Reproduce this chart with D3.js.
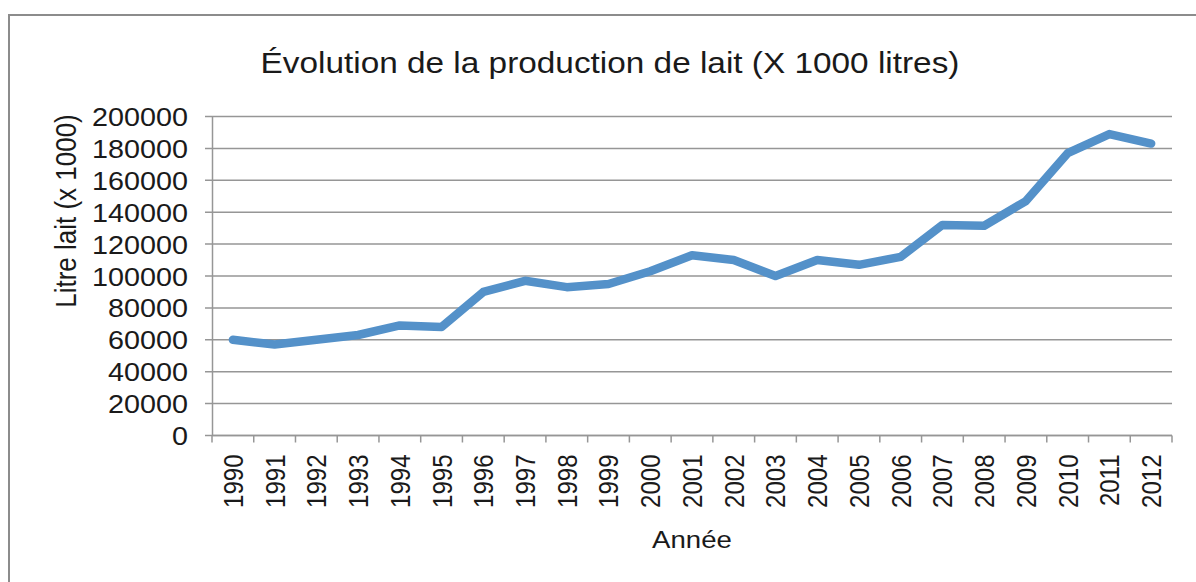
<!DOCTYPE html>
<html>
<head>
<meta charset="utf-8">
<script src="https://cdn.jsdelivr.net/npm/d3@7"></script>
<style>
  body { margin: 0; background: #fff; }
  text { font-family: "Liberation Sans", Arial, sans-serif; fill: #1a1a1a; }
</style>
</head>
<body>
<div id="chart"></div>
<script>
const years = ["1990","1991","1992","1993","1994","1995","1996","1997","1998","1999","2000",
  "2001","2002","2003","2004","2005","2006","2007","2008","2009","2010","2011","2012"];
const production = [60000, 57000, 60000, 63000, 69000, 68000, 90000, 97000, 93000, 95000, 103000,
  113000, 110000, 100000, 110000, 107000, 112000, 132000, 131500, 147000, 177000, 189000, 183000];
const yTicks = [0, 20000, 40000, 60000, 80000, 100000, 120000, 140000, 160000, 180000, 200000];

const width = 1196, height = 582;
const margin = { top: 116.5, right: 24, bottom: 146.5, left: 212 };
const innerW = width - margin.left - margin.right;
const innerH = height - margin.top - margin.bottom;
const stretch = 1.15; // the source picture is a little wider than tall

const svg = d3.select("#chart").append("svg")
  .attr("width", width)
  .attr("height", height);

// outer frame (top and left edges visible)
svg.append("path")
  .attr("d", `M9,${height} L9,15 L${width},15`)
  .attr("fill", "none")
  .attr("stroke", "#8c8c8c")
  .attr("stroke-width", 2);

svg.append("text")
  .attr("transform", `translate(610,73) scale(${stretch},1)`)
  .attr("text-anchor", "middle")
  .attr("font-size", 29)
  .text("Évolution de la production de lait (X 1000 litres)");

const g = svg.append("g").attr("transform", `translate(${margin.left},${margin.top})`);

const x = d3.scaleBand().domain(years).range([0, innerW]);
const y = d3.scaleLinear().domain([0, 200000]).range([innerH, 0]);

// gridlines
g.append("g")
  .selectAll("line")
  .data(yTicks)
  .join("line")
  .attr("x1", -7)
  .attr("x2", innerW)
  .attr("y1", (d) => y(d))
  .attr("y2", (d) => y(d))
  .attr("stroke", "#969696")
  .attr("stroke-width", 1.5);

const yAxisG = g.append("g")
  .call(d3.axisLeft(y).tickValues(yTicks).tickFormat(d3.format("d")).tickSize(0));
yAxisG.select(".domain").attr("stroke", "#969696").attr("stroke-width", 1.5);
yAxisG.selectAll("text")
  .attr("x", null)
  .attr("transform", `translate(-24,0) scale(${stretch},1)`)
  .attr("font-size", 25)
  .attr("fill", "#1a1a1a")
  .attr("dy", "0.36em");

// x axis with ticks between categories
const xAxisG = g.append("g").attr("transform", `translate(0,${innerH})`);
xAxisG.append("line")
  .attr("x1", 0).attr("x2", innerW)
  .attr("stroke", "#969696").attr("stroke-width", 1.5);
xAxisG.selectAll("line.tick")
  .data(d3.range(years.length + 1))
  .join("line")
  .attr("class", "tick")
  .attr("x1", (i) => i * x.step())
  .attr("x2", (i) => i * x.step())
  .attr("y1", 0).attr("y2", 7)
  .attr("stroke", "#969696").attr("stroke-width", 1.5);
xAxisG.selectAll("text")
  .data(years)
  .join("text")
  .attr("transform", (d) => `translate(${x(d) + x.bandwidth() / 2},19) rotate(-90) scale(1,${stretch})`)
  .attr("text-anchor", "end")
  .attr("dy", "0.36em")
  .attr("font-size", 24)
  .text((d) => d);

// axis titles
svg.append("text")
  .attr("transform", `translate(76,211) rotate(-90) scale(1,${stretch})`)
  .attr("text-anchor", "middle")
  .attr("font-size", 26)
  .text("Litre lait (x 1000)");

svg.append("text")
  .attr("transform", `translate(692,548) scale(${stretch},1)`)
  .attr("text-anchor", "middle")
  .attr("font-size", 24)
  .text("Année");

// the series
const line = d3.line()
  .x((d, i) => x(years[i]) + x.bandwidth() / 2)
  .y((d) => y(d));

g.append("path")
  .datum(production)
  .attr("d", line)
  .attr("fill", "none")
  .attr("stroke", "#5491c9")
  .attr("stroke-width", 8.5)
  .attr("stroke-linejoin", "round")
  .attr("stroke-linecap", "round");
</script>
</body>
</html>
